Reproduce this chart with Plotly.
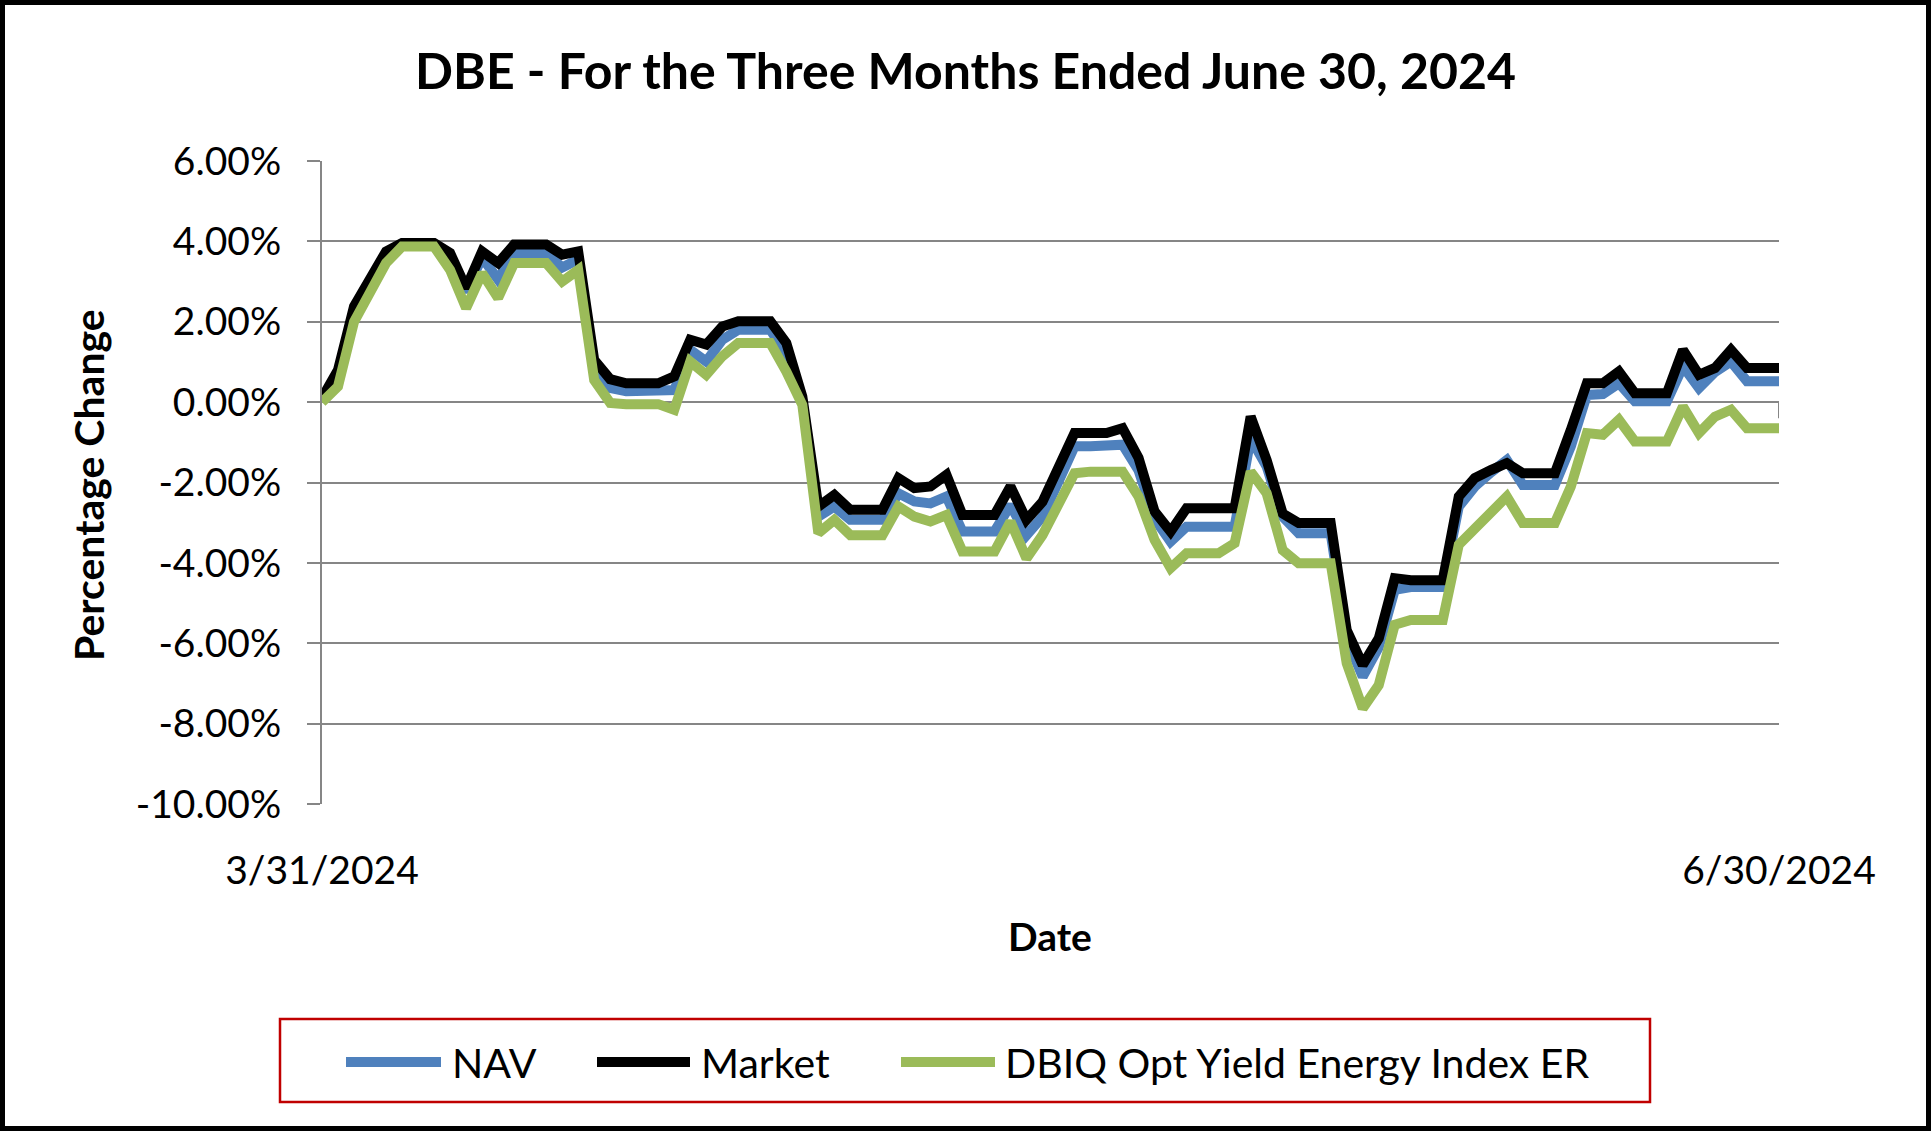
import pandas as pd
import plotly.graph_objects as go

# ---------------- data ----------------
dates = pd.date_range("2024-03-31", "2024-06-30", freq="D")

nav = [0.10, 0.70, 2.30, 3.05, 3.70, 3.93, 3.93, 3.93, 3.60, 2.75,
       3.60, 3.05, 3.71, 3.71, 3.71, 3.35, 3.55, 0.85, 0.35, 0.27,
       0.27, 0.27, 0.30, 1.30, 1.01, 1.55, 1.80, 1.80, 1.80, 1.20,
       0.05, -2.85, -2.60, -2.93, -2.93, -2.93, -2.27, -2.47, -2.52, -2.35,
       -3.22, -3.22, -3.22, -2.56, -3.31, -2.85, -2.00, -1.10, -1.10, -1.10,
       -1.06, -1.70, -2.90, -3.47, -3.10, -3.10, -3.10, -3.10, -0.90, -1.60,
       -2.85, -3.26, -3.26, -3.26, -5.90, -6.83, -6.10, -4.67, -4.60, -4.60,
       -4.60, -2.60, -2.10, -1.75, -1.44, -2.06, -2.06, -2.06, -1.10, 0.18,
       0.20, 0.47, 0.02, 0.02, 0.02, 0.89, 0.35, 0.75, 1.01, 0.52,
       0.52, 0.52]

market = [0.10, 0.80, 2.38, 3.13, 3.75, 3.96, 3.96, 3.96, 3.71, 2.84,
          3.75, 3.46, 3.92, 3.92, 3.92, 3.67, 3.75, 1.05, 0.57, 0.47,
          0.47, 0.47, 0.64, 1.55, 1.43, 1.88, 2.01, 2.01, 2.01, 1.47,
          0.14, -2.60, -2.31, -2.68, -2.68, -2.68, -1.89, -2.14, -2.10, -1.81,
          -2.81, -2.81, -2.81, -2.10, -2.93, -2.48, -1.60, -0.77, -0.77, -0.77,
          -0.65, -1.39, -2.72, -3.22, -2.64, -2.64, -2.64, -2.64, -0.36, -1.44,
          -2.77, -3.01, -3.01, -3.01, -5.67, -6.54, -5.88, -4.38, -4.43, -4.43,
          -4.43, -2.35, -1.89, -1.69, -1.52, -1.77, -1.77, -1.77, -0.69, 0.47,
          0.47, 0.76, 0.22, 0.22, 0.22, 1.30, 0.68, 0.85, 1.30, 0.85,
          0.85, 0.85]

dbiq = [0.00, 0.39, 2.00, 2.75, 3.46, 3.87, 3.87, 3.87, 3.29, 2.34,
        3.21, 2.59, 3.46, 3.46, 3.46, 3.00, 3.29, 0.55, -0.02, -0.05,
        -0.05, -0.05, -0.19, 1.01, 0.68, 1.14, 1.47, 1.47, 1.47, 0.76,
        -0.07, -3.26, -2.93, -3.31, -3.31, -3.31, -2.60, -2.85, -2.97, -2.81,
        -3.72, -3.72, -3.72, -2.97, -3.89, -3.31, -2.55, -1.77, -1.73, -1.73,
        -1.73, -2.35, -3.43, -4.13, -3.76, -3.76, -3.76, -3.51, -1.73, -2.27,
        -3.68, -4.01, -4.01, -4.01, -6.50, -7.62, -7.04, -5.54, -5.42, -5.42,
        -5.42, -3.55, -3.14, -2.77, -2.35, -3.01, -3.01, -3.01, -2.10, -0.77,
        -0.81, -0.44, -0.98, -0.98, -0.98, -0.11, -0.77, -0.36, -0.19, -0.65,
        -0.65, -0.65]

series_names = ["NAV", "Market", "DBIQ Opt Yield Energy Index ER"]
series_colors = ["#4F81BD", "#000000", "#9BBB59"]
y_ticks = [6, 4, 2, 0, -2, -4, -6, -8, -10]
y_tick_text = ["%.2f%%" % v for v in y_ticks]
x_tick_vals = ["2024-03-31", "2024-06-30"]
x_tick_text = ["3/31/2024", "6/30/2024"]
title_text = "DBE - For the Three Months Ended June 30, 2024"

# ---------------- layout geometry (pixels) ----------------
W, H = 1931, 1131
L, R, T, B = 322, 1779, 161, 804
PW, PH = R - L, B - T


def px(xp):
    return (xp - L) / PW


def py(yp):
    return (B - yp) / PH


FONT = "Lato"

fig = go.Figure()
for name, vals, col in zip(series_names, [nav, market, dbiq], series_colors):
    fig.add_trace(go.Scatter(x=dates, y=vals, mode="lines", name=name,
                             line=dict(color=col, width=10),
                             showlegend=False))

shapes = []
# outer border
shapes.append(dict(type="rect", xref="paper", yref="paper",
                   x0=px(2.5), x1=px(W - 2.5), y0=py(H - 2.5), y1=py(2.5),
                   line=dict(color="black", width=5), layer="below"))
# small x-axis tick at end
shapes.append(dict(type="line", xref="x", yref="y",
                   x0=x_tick_vals[1], x1=x_tick_vals[1], y0=0, y1=-0.4,
                   line=dict(color="#868686", width=2), layer="below"))
# legend box
shapes.append(dict(type="rect", xref="paper", yref="paper",
                   x0=px(280), x1=px(1650), y0=py(1102), y1=py(1019),
                   line=dict(color="#C00000", width=2.5)))

annotations = []
leg_y = 1062
leg_items = [(346, 441, 450), (597, 690, 699), (901, 995, 1003)]
for (lx0, lx1, tx), name, col in zip(leg_items, series_names, series_colors):
    shapes.append(dict(type="line", xref="paper", yref="paper",
                       x0=px(lx0), x1=px(lx1), y0=py(leg_y), y1=py(leg_y),
                       line=dict(color=col, width=10)))
    annotations.append(dict(xref="paper", yref="paper", x=px(tx), y=py(leg_y),
                            text=name, showarrow=False, xanchor="left",
                            yanchor="middle",
                            font=dict(family=FONT, size=41, color="black")))

# axis titles
annotations.append(dict(xref="paper", yref="paper", x=px(1050), y=py(936),
                        text="<b>Date</b>", showarrow=False,
                        xanchor="center", yanchor="middle",
                        font=dict(family=FONT, size=39, color="black")))
annotations.append(dict(xref="paper", yref="paper", x=px(88), y=py(485),
                        text="<b>Percentage Change</b>", showarrow=False,
                        textangle=-90, xanchor="center", yanchor="middle",
                        font=dict(family=FONT, size=41, color="black")))

fig.update_layout(
    width=W, height=H,
    margin=dict(l=L, r=W - R, t=T, b=H - B, autoexpand=False),
    paper_bgcolor="white", plot_bgcolor="white",
    title=dict(text="<b>" + title_text + "</b>", x=0.5, xref="container",
               xanchor="center", y=1 - 71 / H, yref="container",
               yanchor="middle",
               font=dict(family=FONT, size=50, color="black")),
    xaxis=dict(type="date", range=["2024-03-31", "2024-06-30"],
               showgrid=False, zeroline=False, showline=False,
               tickmode="array", tickvals=x_tick_vals, ticktext=x_tick_text,
               ticks="", ticklabelstandoff=40,
               tickfont=dict(family=FONT, size=39, color="black")),
    yaxis=dict(range=[-10, 6], tickmode="array", tickvals=y_ticks,
               ticktext=y_tick_text,
               showgrid=True, gridcolor="#868686", gridwidth=2,
               zeroline=False, showline=True, linecolor="#868686",
               linewidth=2, ticks="outside", ticklen=13, tickwidth=2,
               tickcolor="#868686", ticklabelstandoff=18,
               tickfont=dict(family=FONT, size=39, color="black")),
    shapes=shapes, annotations=annotations,
)

fig.write_html("out.html")
